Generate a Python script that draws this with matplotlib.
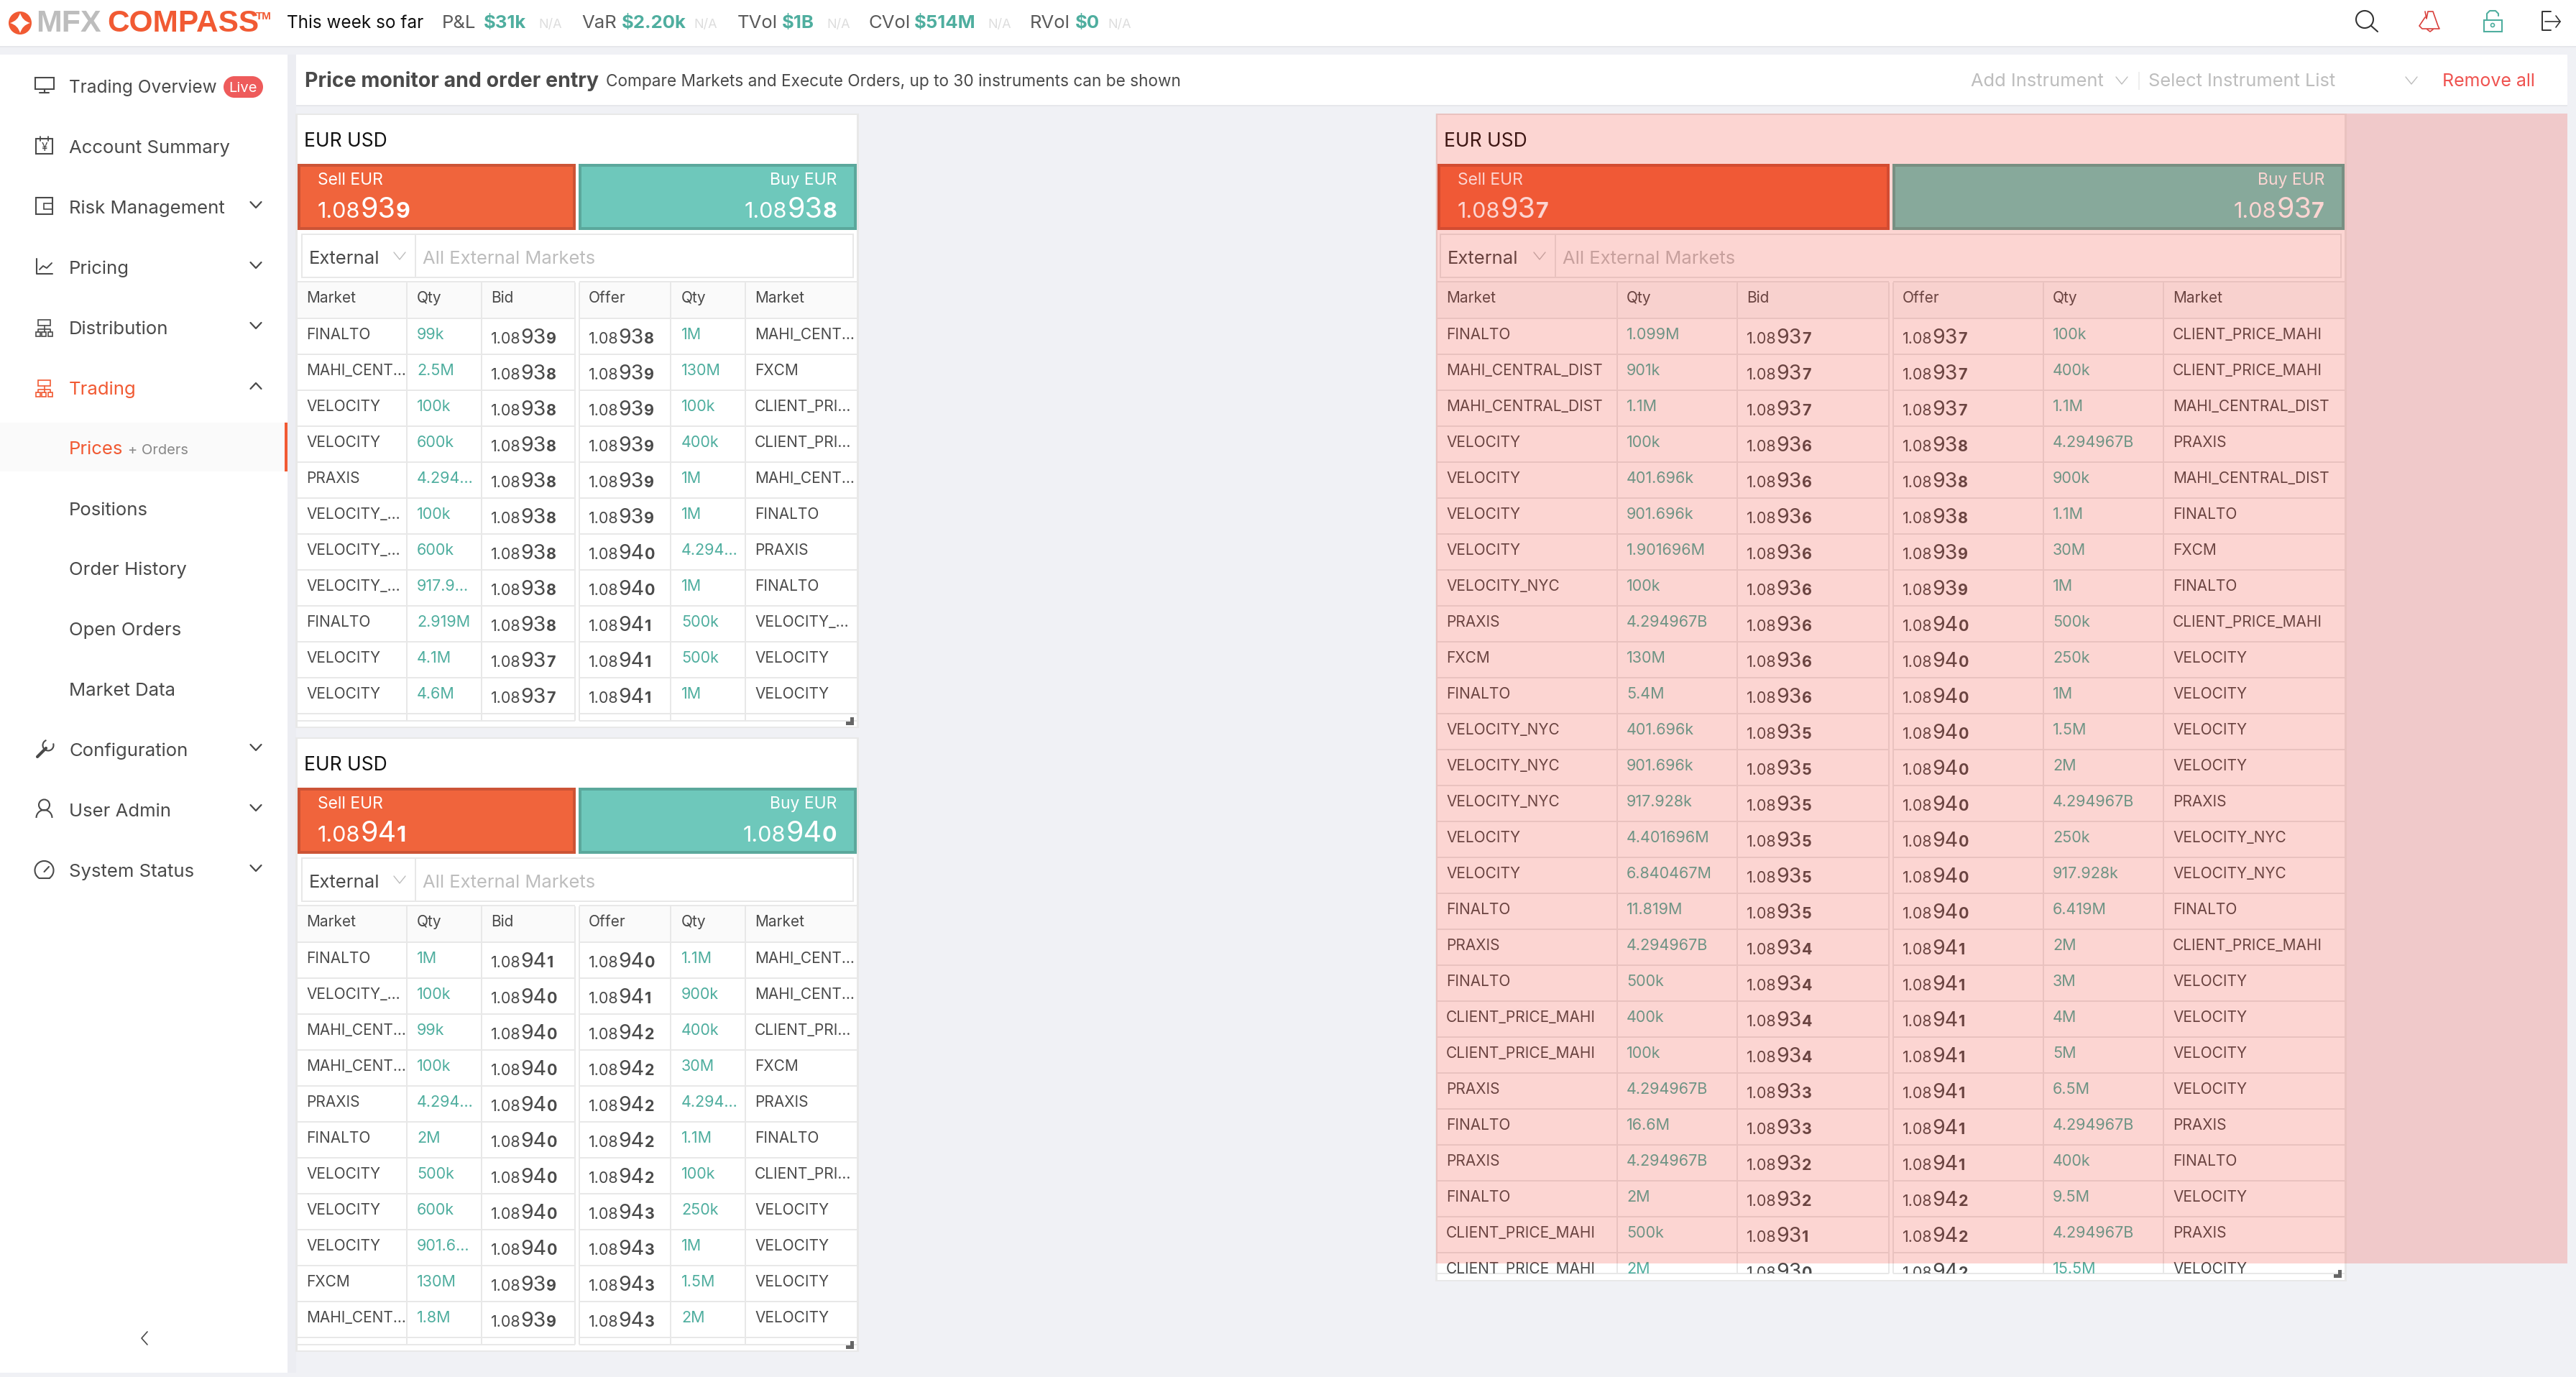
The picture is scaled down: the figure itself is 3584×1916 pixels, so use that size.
import matplotlib; matplotlib.use('Agg')
import matplotlib.pyplot as plt
from matplotlib.patches import Rectangle, Circle, PathPatch, Arc
from matplotlib.path import Path

plt.rcParams['font.family'] = ['Inter', 'DejaVu Sans']

# top bar stats
stat_names = ['P&L', 'VaR', 'TVol', 'CVol', 'RVol']
stat_values = ['$31k', '$2.20k', '$1B', '$514M', '$0']

# sidebar
nav_items = ['Trading Overview', 'Account Summary', 'Risk Management', 'Pricing', 'Distribution', 'Trading']
nav_sub = ['Positions', 'Order History', 'Open Orders', 'Market Data']
nav_bottom = ['Configuration', 'User Admin', 'System Status']

header_left = ['Market', 'Qty', 'Bid']
header_right = ['Offer', 'Qty', 'Market']

# first panel
p1_sell = '1.08939'
p1_buy = '1.08938'
p1_bid_market = ['FINALTO', 'MAHI_CENT...', 'VELOCITY', 'VELOCITY', 'PRAXIS', 'VELOCITY_...', 'VELOCITY_...', 'VELOCITY_...', 'FINALTO', 'VELOCITY', 'VELOCITY']
p1_bid_qty = ['99k', '2.5M', '100k', '600k', '4.294...', '100k', '600k', '917.9...', '2.919M', '4.1M', '4.6M']
p1_bid = ['1.08939', '1.08938', '1.08938', '1.08938', '1.08938', '1.08938', '1.08938', '1.08938', '1.08938', '1.08937', '1.08937']
p1_offer = ['1.08938', '1.08939', '1.08939', '1.08939', '1.08939', '1.08939', '1.08940', '1.08940', '1.08941', '1.08941', '1.08941']
p1_offer_qty = ['1M', '130M', '100k', '400k', '1M', '1M', '4.294...', '1M', '500k', '500k', '1M']
p1_offer_market = ['MAHI_CENT...', 'FXCM', 'CLIENT_PRI...', 'CLIENT_PRI...', 'MAHI_CENT...', 'FINALTO', 'PRAXIS', 'FINALTO', 'VELOCITY_...', 'VELOCITY', 'VELOCITY']

# second panel
p2_sell = '1.08941'
p2_buy = '1.08940'
p2_bid_market = ['FINALTO', 'VELOCITY_...', 'MAHI_CENT...', 'MAHI_CENT...', 'PRAXIS', 'FINALTO', 'VELOCITY', 'VELOCITY', 'VELOCITY', 'FXCM', 'MAHI_CENT...']
p2_bid_qty = ['1M', '100k', '99k', '100k', '4.294...', '2M', '500k', '600k', '901.6...', '130M', '1.8M']
p2_bid = ['1.08941', '1.08940', '1.08940', '1.08940', '1.08940', '1.08940', '1.08940', '1.08940', '1.08940', '1.08939', '1.08939']
p2_offer = ['1.08940', '1.08941', '1.08942', '1.08942', '1.08942', '1.08942', '1.08942', '1.08943', '1.08943', '1.08943', '1.08943']
p2_offer_qty = ['1.1M', '900k', '400k', '30M', '4.294...', '1.1M', '100k', '250k', '1M', '1.5M', '2M']
p2_offer_market = ['MAHI_CENT...', 'MAHI_CENT...', 'CLIENT_PRI...', 'FXCM', 'PRAXIS', 'FINALTO', 'CLIENT_PRI...', 'VELOCITY', 'VELOCITY', 'VELOCITY', 'VELOCITY']

# big panel with the red overlay
p3_sell = '1.08937'
p3_buy = '1.08937'
p3_bid_market = ['FINALTO', 'MAHI_CENTRAL_DIST', 'MAHI_CENTRAL_DIST', 'VELOCITY', 'VELOCITY', 'VELOCITY', 'VELOCITY',
                 'VELOCITY_NYC', 'PRAXIS', 'FXCM', 'FINALTO', 'VELOCITY_NYC', 'VELOCITY_NYC', 'VELOCITY_NYC',
                 'VELOCITY', 'VELOCITY', 'FINALTO', 'PRAXIS', 'FINALTO', 'CLIENT_PRICE_MAHI', 'CLIENT_PRICE_MAHI',
                 'PRAXIS', 'FINALTO', 'PRAXIS', 'FINALTO', 'CLIENT_PRICE_MAHI', 'CLIENT_PRICE_MAHI']
p3_bid_qty = ['1.099M', '901k', '1.1M', '100k', '401.696k', '901.696k', '1.901696M', '100k', '4.294967B', '130M', '5.4M',
              '401.696k', '901.696k', '917.928k', '4.401696M', '6.840467M', '11.819M', '4.294967B', '500k', '400k',
              '100k', '4.294967B', '16.6M', '4.294967B', '2M', '500k', '2M']
p3_bid = ['1.08937', '1.08937', '1.08937', '1.08936', '1.08936', '1.08936', '1.08936', '1.08936', '1.08936', '1.08936',
          '1.08936', '1.08935', '1.08935', '1.08935', '1.08935', '1.08935', '1.08935', '1.08934', '1.08934', '1.08934',
          '1.08934', '1.08933', '1.08933', '1.08932', '1.08932', '1.08931', '1.08930']
p3_offer = ['1.08937', '1.08937', '1.08937', '1.08938', '1.08938', '1.08938', '1.08939', '1.08939', '1.08940', '1.08940',
            '1.08940', '1.08940', '1.08940', '1.08940', '1.08940', '1.08940', '1.08940', '1.08941', '1.08941', '1.08941',
            '1.08941', '1.08941', '1.08941', '1.08941', '1.08942', '1.08942', '1.08942']
p3_offer_qty = ['100k', '400k', '1.1M', '4.294967B', '900k', '1.1M', '30M', '1M', '500k', '250k', '1M', '1.5M', '2M',
                '4.294967B', '250k', '917.928k', '6.419M', '2M', '3M', '4M', '5M', '6.5M', '4.294967B', '400k', '9.5M',
                '4.294967B', '15.5M']
p3_offer_market = ['CLIENT_PRICE_MAHI', 'CLIENT_PRICE_MAHI', 'MAHI_CENTRAL_DIST', 'PRAXIS', 'MAHI_CENTRAL_DIST', 'FINALTO',
                   'FXCM', 'FINALTO', 'CLIENT_PRICE_MAHI', 'VELOCITY', 'VELOCITY', 'VELOCITY', 'VELOCITY', 'PRAXIS',
                   'VELOCITY_NYC', 'VELOCITY_NYC', 'FINALTO', 'CLIENT_PRICE_MAHI', 'VELOCITY', 'VELOCITY', 'VELOCITY',
                   'VELOCITY', 'PRAXIS', 'FINALTO', 'VELOCITY', 'PRAXIS', 'VELOCITY']

BG = '#f0f1f5'
ORANGE = '#f15a33'
TEAL = '#4fae9f'
DARK = '#4a4a4a'
GREY = '#bdbdbd'
LINE = '#e8e8e8'
RED = '#ef5350'

fig = plt.figure(figsize=(35.84, 19.16), dpi=100, facecolor=BG)
ax = fig.add_axes([0, 0, 1, 1])
ax.set_xlim(0, 3584)
ax.set_ylim(1916, 0)
ax.axis('off')
renderer = fig.canvas.get_renderer()


def box(x0, y0, x1, y1, color, z=1):
    ax.add_patch(Rectangle((x0, y0), x1 - x0, y1 - y0, fc=color, ec='none', zorder=z))


def label(x, y, s, size=15, color=DARK, weight='normal', ha='left', family=None, clip=None):
    t = ax.text(x, y, s, fontsize=size, color=color, fontweight=weight, ha=ha, va='baseline', zorder=5)
    if family:
        t.set_family(family)
    if clip is not None:
        t.set_clip_on(True)
        t.set_clip_path(clip)
    return t


def line(xs, ys, color=DARK, lw=1.5, z=5):
    ax.plot(xs, ys, color=color, lw=lw, zorder=z, solid_capstyle='round', solid_joinstyle='round')


def chevron(x, y, color=GREY, w=8, h=10, lw=1.0, up=False):
    d = -h if up else h
    line([x - w, x, x + w], [y - d / 2, y + d / 2, y - d / 2], color, lw)


def price(x, y, s, small, big, color=DARK, right=False, clip=None):
    # last digit is bold, the two before it are the big pips
    runs = [(s[:4], small, 'normal'), (s[4:6], big, 'normal'), (s[6:], small, 'bold')]
    parts = []
    pos = x
    for text, size, weight in runs:
        t = label(pos, y, text, size, color, weight, clip=clip)
        pos += t.get_window_extent(renderer).width
        parts.append(t)
    if right:
        shift = pos - x
        for t in parts:
            t.set_x(t.get_position()[0] - shift)


def panel(top, bottom, x0, x1, cols_l, cols_r, text_x, filter_x, sell, buy, rows, clip_y=None):
    # offsets are all relative to the first panel, top edge at y=158
    dy = top - 158
    box(x0 - 3, top, x1 + 3, bottom, LINE)
    box(x0, top + 2, x1, bottom - 2, 'white')
    label(text_x[0] - 3, 204 + dy, 'EUR USD', 19, '#111111')

    mid_l, mid_r = cols_l[-1], cols_r[0]
    sell_r = mid_l + 1
    buy_l = mid_r - 1
    box(x0, 228 + dy, sell_r, 320 + dy, '#cc5436')
    box(x0 + 4, 232 + dy, sell_r - 4, 316 + dy, '#f0643c')
    box(buy_l, 228 + dy, x1, 320 + dy, '#5ba89c')
    box(buy_l + 4, 232 + dy, x1 - 4, 316 + dy, '#6ec8bb')
    label(x0 + 28, 257 + dy, 'Sell EUR', 16.5, 'white')
    label(x1 - 28, 257 + dy, 'Buy EUR', 16.5, 'white', ha='right')
    price(x0 + 28, 303 + dy, sell, 22, 28.5, 'white')
    price(x1 - 28, 303 + dy, buy, 22, 28.5, 'white', right=True)

    fx0, fx1, fsplit = filter_x
    box(fx0, 325 + dy, fx1, 387 + dy, LINE)
    box(fx0 + 2, 327 + dy, fx1 - 2, 385 + dy, 'white')
    box(fsplit, 327 + dy, fsplit + 2, 385 + dy, LINE)
    label(fx0 + 11, 367 + dy, 'External', 18.5, DARK)
    chevron(fsplit - 21, 356 + dy, GREY)
    label(fsplit + 11, 367 + dy, 'All External Markets', 18.4, GREY)

    names_l, qty_l, bid, offer, qty_r, names_r = rows
    n = len(bid)
    grid_bottom = (clip_y if clip_y else 443 + 50 * n + 10) + dy
    clip = Rectangle((x0, 393 + dy), x1 - x0, grid_bottom - 393 - dy, transform=ax.transData)

    # header and grid
    box(x0, 393 + dy, mid_l, 443 + dy, '#fafafa')
    box(mid_r, 393 + dy, x1, 443 + dy, '#fafafa')
    for left, right in ((x0, mid_l), (mid_r, x1)):
        box(left, 391 + dy, right, 393 + dy, LINE, 2)
        for r in range(n + 1):
            y = 443 + 50 * r + dy
            if y < grid_bottom:
                box(left, y - 1, right, y + 1, LINE, 2)
        box(left, grid_bottom - 1, right, grid_bottom + 1, LINE, 2)
    for c in list(cols_l[1:]) + list(cols_r):
        box(c - 1, 393 + dy, c + 1, grid_bottom, LINE, 2)

    for x, s in zip(text_x[:3], header_left):
        label(x, 421 + dy, s, 15)
    for x, s in zip(text_x[3:], header_right):
        label(x, 421 + dy, s, 15)

    for r in range(n):
        base = 472 + 50 * r + dy
        label(text_x[0], base, names_l[r], 15, clip=clip)
        label(text_x[1], base, qty_l[r], 15.5, TEAL, clip=clip)
        price(text_x[2], base + 6, bid[r], 15.5, 20.5, clip=clip)
        price(text_x[3], base + 6, offer[r], 15.5, 20.5, clip=clip)
        label(text_x[4], base, qty_r[r], 15.5, TEAL, clip=clip)
        label(text_x[5], base, names_r[r], 15, clip=clip)

    # resize handle
    hx, hy = x1 - 15, grid_bottom - 5
    box(hx + 6, hy, hx + 11, hy + 11, '#666666', 6)
    box(hx, hy + 6, hx + 11, hy + 11, '#666666', 6)


# top bar
box(0, 0, 3584, 64, 'white')
box(0, 64, 3584, 66, '#e6e7eb')
ax.add_patch(Circle((28, 32), 16, fc=ORANGE, ec='none', zorder=3))
star = Path([(28, 18), (31, 29), (42, 32), (31, 35), (28, 46), (25, 35), (14, 32), (25, 29), (28, 18)],
            [Path.MOVETO, Path.CURVE3, Path.CURVE3, Path.CURVE3, Path.CURVE3, Path.CURVE3, Path.CURVE3, Path.CURVE3, Path.CURVE3])
ax.add_patch(PathPatch(star, fc='white', ec='none', zorder=4))
label(50, 44, 'MFX', 31, GREY, 'bold', family='Liberation Sans')
label(149, 44, 'COMPASS', 30.5, ORANGE, 'bold', family='Liberation Sans')
label(356, 27, 'TM', 11, ORANGE, 'bold', family='Liberation Sans')
label(399, 39, 'This week so far', 17.5, '#111111')
stat_x = [(615, 673, 749), (809, 865, 965), (1026, 1088, 1150), (1209, 1272, 1374), (1433, 1496, 1541)]
for (a, b, c), name, val in zip(stat_x, stat_names, stat_values):
    label(a, 39, name, 18.5, '#5a5a5a')
    label(b, 39, val, 18.5, TEAL, 'bold')
    label(c, 39, 'N/A', 13, '#dddddd')

ax.add_patch(Circle((3290, 27), 12, fc='none', ec='#333333', lw=1.5, zorder=5))
line([3299, 3308], [36, 44], '#333333', 1.5)
line([3374, 3376, 3378, 3385, 3392, 3394, 3384, 3370, 3366, 3374], [16, 26, 16, 16, 36, 40, 40, 40, 36, 24], '#d9403c', 1.2)
line([3377, 3381, 3385], [41, 44, 41], '#d9403c', 1.2)
ax.add_patch(Rectangle((3456, 28), 25, 16, fc='none', ec=TEAL, lw=1.5, zorder=5))
line([3460, 3460, 3464, 3472, 3476, 3476], [28, 19, 15, 15, 19, 22], TEAL, 1.5)
ax.add_patch(Circle((3468, 35), 2.5, fc='none', ec=TEAL, lw=1.2, zorder=5))
line([3549, 3537, 3537, 3549], [16, 16, 42, 42], '#333333', 1.4)
line([3541, 3562], [30, 30], '#333333', 1.2)
line([3556, 3562, 3556], [22, 30, 38], '#333333', 1.2)

# sidebar
box(0, 76, 400, 1910, 'white')
box(400, 76, 412, 1910, '#ecedf2')
nav_y = [120, 204, 288, 372, 456, 540]
for i, (y, name) in enumerate(zip(nav_y, nav_items)):
    c = ORANGE if name == 'Trading' else DARK
    size = 17.6 if i == 0 else 18.5
    label(96, y + 9, name, size, c)
    if i >= 2:
        chevron(356, y - 3, DARK, 7.5, 8, 1.6, up=name == 'Trading')
for y, name in zip([708, 791, 875, 959], nav_sub):
    label(96, y + 9, name, 18.5)
box(0, 588, 400, 656, '#fafafa')
box(396, 588, 400, 656, ORANGE, 2)
t = label(96, 632, 'Prices', 18.5, ORANGE)
label(96 + t.get_window_extent(renderer).width + 7, 632, '+ Orders', 14.5, '#888888')
for y, name in zip([1043, 1127, 1211], nav_bottom):
    label(96, y + 9, name, 18.5)
    chevron(356, y - 3, DARK, 7.5, 8, 1.6)
line([205, 197, 205], [1853, 1862, 1871], DARK, 1.2)

# live badge
box(326, 106, 351, 136, '#ee5b5b', 3)
ax.add_patch(Circle((326, 121), 15, fc='#ee5b5b', ec='none', zorder=3))
ax.add_patch(Circle((351, 121), 15, fc='#ee5b5b', ec='none', zorder=3))
label(338.5, 128, 'Live', 14.5, 'white', ha='center')

# sidebar icons
ax.add_patch(Rectangle((49, 108), 26, 16, fc='none', ec=DARK, lw=1.5, zorder=5))
line([61.5, 61.5], [124, 129], DARK, 1.5)
line([55, 68], [129, 129], DARK, 1.5)
ax.add_patch(Rectangle((50, 193), 23, 21, fc='none', ec=DARK, lw=1.5, zorder=5))
line([56, 56], [190, 196], DARK, 1.3)
line([67, 67], [190, 196], DARK, 1.3)
label(61.5, 210, '¥', 11, DARK, ha='center')
ax.add_patch(Rectangle((50, 275), 23, 23, fc='none', ec=DARK, lw=1.5, zorder=5))
ax.add_patch(Rectangle((61, 283), 12, 8, fc='none', ec=DARK, lw=1.2, zorder=5))
line([50.5, 50.5, 73], [360, 381, 381], DARK, 1.5)
line([55, 60, 65, 72], [375, 370, 373, 366], DARK, 1.4)
for y, c in ((456, DARK), (540, ORANGE)):
    ax.add_patch(Rectangle((53, y - 11), 17, 8, fc='none', ec=c, lw=1.2, zorder=5))
    line([61.5, 61.5], [y - 3, y + 6], c, 1.2)
    line([53, 53, 70, 70], [y + 6, y + 2, y + 2, y + 6], c, 1.2)
    for x in (50, 58, 67):
        ax.add_patch(Rectangle((x, y + 6), 6, 6, fc='none', ec=c, lw=1.2, zorder=5))
line([52, 64], [1053, 1041], DARK, 3.0)
ax.add_patch(Arc((67, 1037), 15, 15, theta1=-20, theta2=250, ec=DARK, lw=1.5, zorder=5))
ax.add_patch(Circle((61.5, 1120), 7.5, fc='none', ec=DARK, lw=1.5, zorder=5))
ax.add_patch(Arc((61.5, 1138), 22, 22, theta1=180, theta2=360, ec=DARK, lw=1.5, zorder=5))
ax.add_patch(Arc((61.5, 1211), 26, 26, theta1=120, theta2=420, ec=DARK, lw=1.5, zorder=5))
line([54.5, 68.5], [1222, 1222], DARK, 1.5)
line([61.5, 68], [1213, 1206], DARK, 1.5)

# header strip
box(412, 76, 3572, 146, 'white')
box(412, 146, 3572, 148, '#e6e7eb')
label(424, 121, 'Price monitor and order entry', 20.5, DARK, 'bold')
label(843, 120, 'Compare Markets and Execute Orders, up to 30 instruments can be shown', 16.3, DARK)
label(2742, 120, 'Add Instrument', 18.3, GREY)
chevron(2952, 112, GREY)
box(2975, 100, 2977, 125, '#eeeeee')
label(2989, 120, 'Select Instrument List', 18.3, GREY)
chevron(3355, 112, GREY)
label(3398, 120, 'Remove all', 18, RED)

# panels
cols_l1 = [414, 566, 670, 800]
cols_r1 = [806, 933, 1037]
text_x1 = [426, 580, 683, 819, 948, 1050]
panel(158, 1013, 414, 1192, cols_l1, cols_r1, text_x1, (419, 1188, 577), p1_sell, p1_buy,
      (p1_bid_market, p1_bid_qty, p1_bid, p1_offer, p1_offer_qty, p1_offer_market))
panel(1026, 1881, 414, 1192, cols_l1, cols_r1, text_x1, (419, 1188, 577), p2_sell, p2_buy,
      (p2_bid_market, p2_bid_qty, p2_bid, p2_offer, p2_offer_qty, p2_offer_market))
panel(158, 1783, 2000, 3262, [2000, 2250, 2417, 2628], [2634, 2843, 3010], [2012, 2263, 2430, 2647, 2856, 3023],
      (2003, 3258, 2163), p3_sell, p3_buy,
      (p3_bid_market, p3_bid_qty, p3_bid, p3_offer, p3_offer_qty, p3_offer_market), clip_y=1772)

# red overlay on top of the third panel
ax.add_patch(Rectangle((1998, 158), 3572 - 1998, 1758 - 158, fc=(240 / 255, 45 / 255, 30 / 255), alpha=0.2, ec='none', zorder=10))

fig.savefig('out.png', dpi=100, facecolor=BG)
